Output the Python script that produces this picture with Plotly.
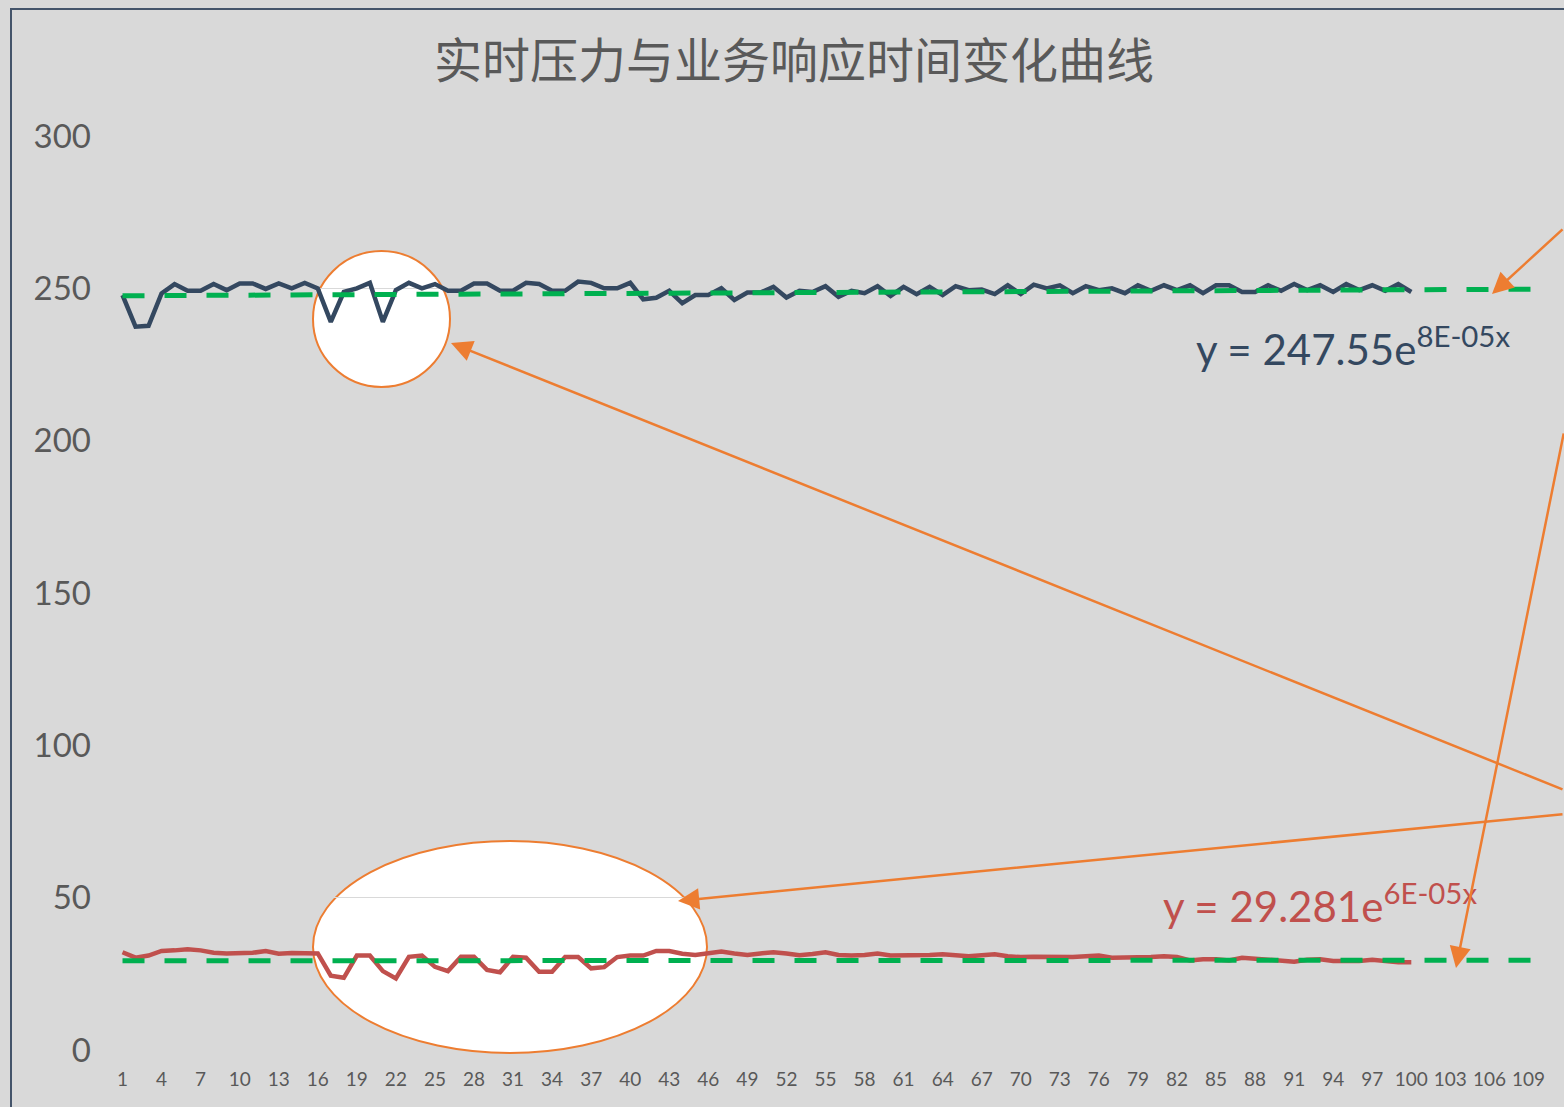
import numpy as np
import plotly.graph_objects as go

# ---- data -------------------------------------------------------------
samples = list(range(1, 101))          # measured sample index
forecast = list(range(1, 111))         # trend extended 10 steps ahead
tick_vals = list(range(1, 110, 3))
tick_text = [str(v) for v in tick_vals]

pressure = [
    247.8, 237.4, 237.7, 248.3, 251.4, 249.2, 249.2, 251.4, 249.4, 251.6,
    251.6, 249.8, 251.6, 250.0, 251.8, 250.0, 239.0, 248.8, 250.0, 251.8,
    239.0, 249.4, 251.8, 250.0, 251.4, 249.2, 249.2, 251.6, 251.6, 249.2,
    249.2, 251.8, 251.4, 249.2, 249.2, 252.2, 251.8, 250.0, 250.0, 251.8,
    246.4, 246.9, 249.2, 245.1, 247.8, 247.8, 250.0, 246.2, 248.6, 248.6,
    250.5, 247.0, 249.2, 248.8, 250.7, 247.2, 249.2, 248.4, 250.7, 247.5,
    250.5, 248.1, 250.5, 247.8, 250.7, 249.4, 249.6, 248.1, 251.0, 248.1,
    251.2, 250.0, 251.0, 248.4, 250.7, 249.4, 250.0, 248.4, 251.0, 249.2,
    251.0, 249.4, 251.0, 248.4, 251.0, 251.0, 248.8, 248.8, 251.0, 249.2,
    251.4, 249.4, 251.0, 248.8, 251.4, 249.4, 251.0, 249.2, 251.4, 248.8,
]

response = [
    32.1, 30.3, 31.0, 32.5, 32.7, 33.1, 32.7, 31.9, 31.7, 31.8,
    31.9, 32.5, 31.6, 31.8, 31.6, 31.7, 24.4, 23.7, 31.0, 31.0,
    25.9, 23.5, 30.6, 31.0, 27.3, 25.9, 30.6, 30.6, 26.3, 25.5,
    30.6, 30.3, 25.7, 25.7, 30.5, 30.5, 26.8, 27.2, 30.5, 31.0,
    31.0, 32.5, 32.5, 31.6, 31.2, 31.9, 32.3, 31.7, 31.2, 31.7,
    32.1, 31.7, 31.1, 31.5, 32.1, 31.2, 31.0, 31.2, 31.7, 31.0,
    31.0, 31.1, 31.2, 31.4, 31.0, 30.8, 31.1, 31.4, 30.8, 30.5,
    30.6, 30.5, 30.3, 30.5, 30.8, 31.0, 30.3, 30.3, 30.5, 30.5,
    30.8, 30.5, 29.4, 29.8, 29.8, 29.4, 30.3, 30.0, 29.8, 29.2,
    29.0, 29.6, 29.8, 29.2, 29.2, 29.2, 29.6, 29.2, 28.8, 28.8,
]

# exponential trend coefficients (y = a * e^(b x))
pressure_a, pressure_b = 247.55, 8e-05
response_a, response_b = 29.281, 6e-05

# ---- geometry helpers ---------------------------------------------------
W, H = 1564, 1107
L, R, T, B = 116, 16, 136, 57
PW, PH = W - L - R, H - T - B
X0, X1 = 0.5, 110.5
Y0, Y1 = 0, 300


def dx(px):
    return X0 + (px - L) / PW * (X1 - X0)


def dy(py):
    return Y1 - (py - T) / PH * (Y1 - Y0)


def paper_x(px):
    return (px - L) / PW


def paper_y(py):
    return 1 - (py - T) / PH


DARK = "#344860"
RED = "#c0504d"
GREEN = "#00b050"
ORANGE = "#ed7d31"
GREY_TXT = "#595959"
BG = "#d9d9d9"

fig = go.Figure()

fig.add_trace(go.Scatter(
    x=samples, y=pressure, mode="lines",
    line=dict(color=DARK, width=4.5), showlegend=False))
fig.add_trace(go.Scatter(
    x=samples, y=response, mode="lines",
    line=dict(color=RED, width=4.5), showlegend=False))

fx = np.array(forecast, dtype=float)
fig.add_trace(go.Scatter(
    x=forecast, y=pressure_a * np.exp(pressure_b * fx), mode="lines",
    line=dict(color=GREEN, width=5, dash="22px,20px"), showlegend=False))
fig.add_trace(go.Scatter(
    x=forecast, y=response_a * np.exp(response_b * fx), mode="lines",
    line=dict(color=GREEN, width=5, dash="22px,20px"), showlegend=False))

shapes = [
    # highlight ellipses (below gridlines and traces, not clipped to axes)
    dict(type="circle", xref="paper", yref="paper", layer="below",
         x0=paper_x(313), x1=paper_x(450), y0=paper_y(387), y1=paper_y(251),
         fillcolor="white", line=dict(color=ORANGE, width=2)),
    dict(type="circle", xref="paper", yref="paper", layer="below",
         x0=paper_x(313), x1=paper_x(707), y0=paper_y(1053), y1=paper_y(841),
         fillcolor="white", line=dict(color=ORANGE, width=2)),
    # chart frame
    dict(type="rect", xref="paper", yref="paper", layer="above",
         x0=paper_x(11), x1=paper_x(1620), y0=paper_y(1130), y1=paper_y(9),
         line=dict(color="#44546a", width=2), fillcolor="rgba(0,0,0,0)"),
]

annotations = [
    dict(text="实时压力与业务响应时间变化曲线", xref="paper", yref="paper",
         x=paper_x(794), y=paper_y(57), showarrow=False,
         xanchor="center", yanchor="middle",
         font=dict(family="Noto Sans CJK SC", size=48, color=GREY_TXT)),
    dict(text="y = 247.55e<sup>8E-05x</sup>", xref="x", yref="y",
         x=dx(1194), y=dy(346), showarrow=False,
         xanchor="left", yanchor="middle",
         font=dict(family="Lato", size=42, color=DARK)),
    dict(text="y = 29.281e<sup>6E-05x</sup>", xref="x", yref="y",
         x=dx(1161), y=dy(903), showarrow=False,
         xanchor="left", yanchor="middle",
         font=dict(family="Lato", size=42, color=RED)),
]

# call-out arrows: (tail px, tip px)
arrows = [
    ((1564, 228), (1492, 294)),
    ((1564, 790), (451, 343)),
    ((1564, 814), (678, 901)),
    ((1564, 432), (1456, 968)),
]
for (tx, ty), (hx, hy) in arrows:
    annotations.append(dict(
        text="", x=dx(hx), y=dy(hy), xref="x", yref="y",
        ax=dx(tx), ay=dy(ty), axref="x", ayref="y",
        showarrow=True, arrowhead=2, arrowsize=1.7, arrowwidth=2.5,
        arrowcolor=ORANGE, standoff=0))

fig.update_layout(
    width=W, height=H,
    margin=dict(l=L, r=R, t=T, b=B, pad=0),
    paper_bgcolor=BG, plot_bgcolor=BG,
    showlegend=False,
    shapes=shapes, annotations=annotations,
    xaxis=dict(range=[X0, X1], tickmode="array", tickvals=tick_vals,
               ticktext=tick_text, showgrid=False, zeroline=False,
               showline=False, ticks="", ticklabelstandoff=16,
               tickfont=dict(family="Lato", size=19, color=GREY_TXT)),
    yaxis=dict(range=[Y0, Y1], tickmode="array",
               tickvals=list(range(0, 301, 50)),
               showgrid=True, gridcolor=BG, gridwidth=1,
               zeroline=False, showline=False, ticks="",
               ticklabelstandoff=24,
               tickfont=dict(family="Lato", size=33, color=GREY_TXT)),
)

fig.write_html("out.html")
